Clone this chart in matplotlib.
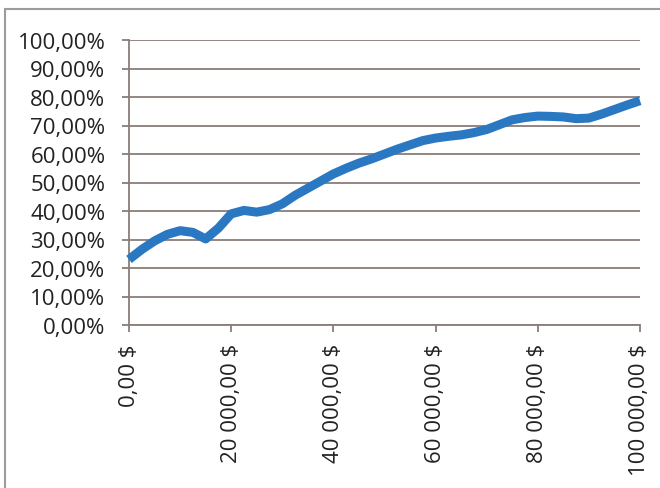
import numpy as np
import matplotlib
matplotlib.use('Agg')
from matplotlib import pyplot as plt
from matplotlib.patches import Rectangle

plt.rcParams['font.family'] = ['Open Sans', 'DejaVu Sans']

# income in $, share in %
income = [i * 2500 for i in range(41)]
share = [23.0, 26.5, 29.5, 31.8, 33.1, 32.5, 30.2, 34.0, 39.0, 40.2,
         39.6, 40.5, 42.5, 45.5, 48.0, 50.5, 53.0, 55.0, 56.8, 58.3,
         60.0, 61.7, 63.2, 64.7, 65.6, 66.2, 66.7, 67.5, 68.6, 70.3,
         72.0, 72.8, 73.3, 73.2, 73.0, 72.4, 72.6, 74.0, 75.6, 77.2, 78.7]

x_ticks = [0, 20000, 40000, 60000, 80000, 100000]
x_labels = ['0,00 $', '20 000,00 $', '40 000,00 $', '60 000,00 $', '80 000,00 $', '100 000,00 $']
y_ticks = [0, 10, 20, 30, 40, 50, 60, 70, 80, 90, 100]
y_labels = ['%d,00%%' % v for v in y_ticks]

grid_col = '#8a7d78'

fig = plt.figure(figsize=(6.6, 4.89), dpi=100)
# outer chart border
fig.patches.append(Rectangle((5/660, -0.05), 1.1, 1 - 10/489 + 0.05, transform=fig.transFigure,
                             fill=False, edgecolor='#a09a98', linewidth=1.5))

ax = fig.add_axes([129/660, 1 - 326/489, (640 - 129)/660, (326 - 41)/489])
ax.plot(income, share, color='#2a78c2', linewidth=6.5, solid_joinstyle='round',
        solid_capstyle='butt', zorder=3, clip_on=False)

ax.set_xlim(0, 100000)
ax.set_ylim(0, 100)
ax.set_yticks(y_ticks)
ax.set_yticklabels(y_labels, fontsize=16, color='#222222')
ax.set_xticks(x_ticks)
ax.set_xticklabels(x_labels, fontsize=16, color='#222222', rotation=90, va='top', ha='center')
ax.yaxis.grid(True, color=grid_col, linewidth=1.3)
ax.set_axisbelow(True)
for s in ['top', 'right']:
    ax.spines[s].set_visible(False)
for s in ['left', 'bottom']:
    ax.spines[s].set_color(grid_col)
    ax.spines[s].set_linewidth(1.3)
ax.tick_params(axis='both', color=grid_col, length=5, width=1.3, direction='out')
ax.tick_params(axis='y', pad=12)
ax.tick_params(axis='x', pad=8)

fig.savefig('out.png', dpi=100)
